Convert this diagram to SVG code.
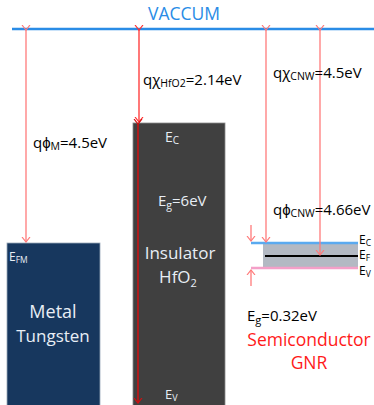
<svg xmlns="http://www.w3.org/2000/svg" width="374" height="405" viewBox="0 0 374 405">
<defs>
<marker id="ahl" viewBox="-5 -6 10 12" markerWidth="10" markerHeight="12" refX="0" refY="0" orient="auto" markerUnits="userSpaceOnUse">
<path d="M-5,-4 L0,0 L-5,4" fill="none" stroke="#ff7a7a" stroke-width="1.2"/>
</marker>
<marker id="ahr" viewBox="-5 -6 10 12" markerWidth="10" markerHeight="12" refX="0" refY="0" orient="auto" markerUnits="userSpaceOnUse">
<path d="M-5,-4 L0,0 L-5,4" fill="none" stroke="#ff3030" stroke-width="1.2"/>
</marker>
<marker id="ahd" viewBox="-5 -6 10 12" markerWidth="10" markerHeight="12" refX="0" refY="0" orient="auto" markerUnits="userSpaceOnUse">
<path d="M-5,-4 L0,0 L-5,4" fill="none" stroke="#d01010" stroke-width="1.2"/>
</marker>
</defs>
<style>
text{font-family:"Open Sans","Liberation Sans",sans-serif}
.lbl{font-size:15px;fill:#000}
.sub{font-size:10.5px}
.wt{fill:#e8eef5}
.lt{stroke:#ff7a7a;stroke-width:1.3;fill:none}
.band{font-size:12px;fill:#000}
</style>
<g id="vacuum">
<line x1="12" y1="29" x2="374" y2="29" stroke="#2a8ce6" stroke-width="2.5"/>
<text x="184" y="20" font-size="17.5" fill="#2a8ce6" text-anchor="middle">VACCUM</text>
</g>
<g id="metal">
<rect x="7" y="243" width="93" height="165" fill="#17375e" stroke="#9aa8b8" stroke-width="0.8"/>
<text x="9" y="261" font-size="12" class="wt">E<tspan font-size="8.5" dy="2">FM</tspan></text>
<text x="53" y="318" font-size="18" class="wt" text-anchor="middle">Metal</text>
<text x="53" y="342" font-size="17" class="wt" text-anchor="middle">Tungsten</text>
</g>
<g id="insulator">
<rect x="133" y="123" width="92" height="285" fill="#404040" stroke="#8a8a8a" stroke-width="0.8"/>
<text x="165" y="142" font-size="14" class="wt">E<tspan font-size="10" dy="2">C</tspan></text>
<text x="158" y="206" font-size="15" class="wt">E<tspan font-size="10.5" dy="3">g</tspan><tspan dy="-3">=6eV</tspan></text>
<text x="180" y="259" font-size="17" class="wt" text-anchor="middle">Insulator</text>
<text x="178" y="283" font-size="17" class="wt" text-anchor="middle">HfO<tspan font-size="11" dy="4">2</tspan></text>
<text x="165" y="399" font-size="13" class="wt">E<tspan font-size="9" dy="2">V</tspan></text>
</g>
<g id="semiconductor">
<rect x="263" y="243" width="95" height="25" fill="#b3b9c3"/>
<line x1="251" y1="243" x2="358" y2="243" stroke="#5aaaf0" stroke-width="2.5"/>
<line x1="251" y1="268" x2="358" y2="268" stroke="#f4a0c8" stroke-width="2.5"/>
<line x1="265" y1="256" x2="358" y2="256" stroke="#000" stroke-width="2.2"/>
<text x="359" y="244" class="band">E<tspan font-size="8.5" dy="1.5">C</tspan></text>
<text x="359" y="259" class="band">E<tspan font-size="8.5" dy="1.5">F</tspan></text>
<text x="359" y="275" class="band">E<tspan font-size="8.5" dy="1.5">V</tspan></text>
<text x="247" y="321" font-size="15" fill="#000">E<tspan font-size="11" dy="3">g</tspan><tspan dy="-3">=0.32eV</tspan></text>
<text x="309" y="346" font-size="17.5" fill="#ff1a1a" text-anchor="middle">Semiconductor</text>
<text x="309" y="369" font-size="17.5" fill="#ff1a1a" text-anchor="middle">GNR</text>
</g>
<g id="connectors">
<line x1="26" y1="30" x2="26" y2="242" class="lt" marker-start="url(#ahl)" marker-end="url(#ahl)"/>
<line x1="139" y1="30" x2="139" y2="122" stroke="#ff3030" stroke-width="1.3" marker-start="url(#ahr)" marker-end="url(#ahr)"/>
<line x1="138" y1="124" x2="138" y2="403" stroke="#d01010" stroke-width="1.5" marker-start="url(#ahd)" marker-end="url(#ahd)"/>
<line x1="266" y1="30" x2="266" y2="242" class="lt" marker-start="url(#ahl)" marker-end="url(#ahl)"/>
<line x1="320" y1="30" x2="320" y2="255" class="lt" marker-start="url(#ahl)" marker-end="url(#ahl)"/>
<line x1="251" y1="225" x2="251" y2="241" class="lt" marker-end="url(#ahl)"/>
<line x1="251" y1="286" x2="251" y2="270" class="lt" marker-end="url(#ahl)"/>
</g>
<g id="labels">
<text x="33" y="148" class="lbl">qϕ<tspan class="sub" dy="2">M</tspan><tspan dy="-2">=4.5eV</tspan></text>
<text x="143" y="85" class="lbl">qχ<tspan class="sub" dy="2">HfO2</tspan><tspan dy="-2">=2.14eV</tspan></text>
<text x="273" y="78" class="lbl">qχ<tspan class="sub" dy="2">CNW</tspan><tspan dy="-2">=4.5eV</tspan></text>
<text x="273" y="215" class="lbl">qϕ<tspan class="sub" dy="2">CNW</tspan><tspan dy="-2">=4.66eV</tspan></text>
</g>
</svg>
